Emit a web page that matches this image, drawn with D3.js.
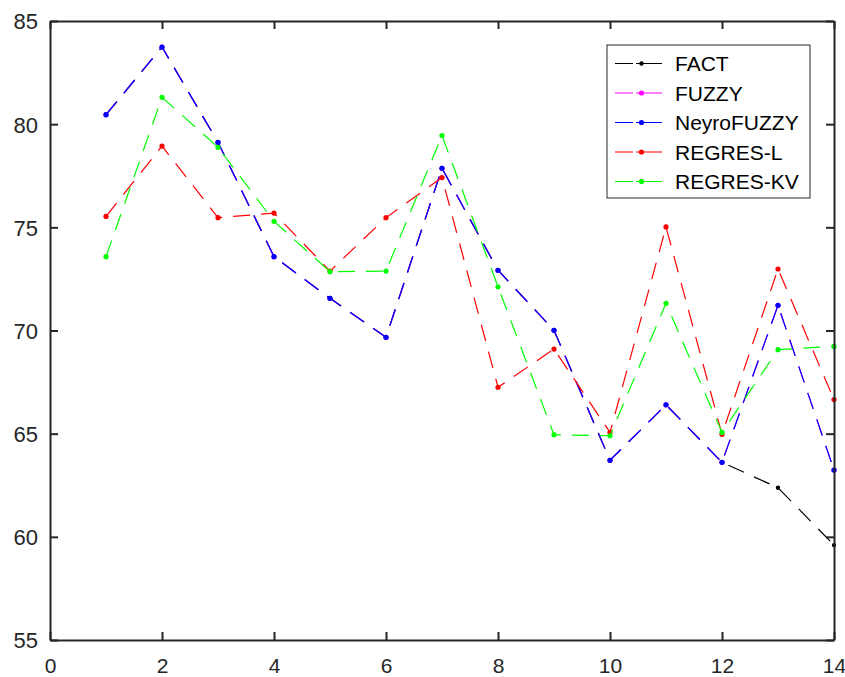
<!DOCTYPE html>
<html>
<head>
<meta charset="utf-8">
<script src="https://cdn.jsdelivr.net/npm/d3@7/dist/d3.min.js"></script>
<style>
  html, body { margin: 0; padding: 0; background: #fff; }
  svg { display: block; }
</style>
</head>
<body>
<svg id="chart" width="845" height="677"></svg>
<script>
// ---- data ----
const xValues = [1, 2, 3, 4, 5, 6, 7, 8, 9, 10, 11, 12, 13, 14];
const fact       = [80.46, 83.74, 79.12, 73.58, 71.56, 69.67, 77.86, 72.92, 70.01, 63.71, 66.40, 63.61, 62.38, 59.60];
const fuzzy      = [80.46, 83.74, 79.12, 73.58, 71.56, 69.67, 77.86, 72.92, 70.01, 63.71, 66.40, 63.61, 71.22, 63.24];
const neyroFuzzy = [80.46, 83.74, 79.12, 73.58, 71.56, 69.67, 77.86, 72.92, 70.01, 63.71, 66.40, 63.61, 71.22, 63.24];
const regresL    = [75.53, 78.94, 75.47, 75.69, 72.88, 75.47, 77.41, 67.25, 69.10, 65.06, 75.02, 64.97, 72.98, 66.65];
const regresKV   = [73.58, 81.30, 78.88, 75.29, 72.85, 72.88, 79.45, 72.12, 64.95, 64.90, 71.32, 65.06, 69.07, 69.23];
const seriesNames = ["FACT", "FUZZY", "NeyroFUZZY", "REGRES-L", "REGRES-KV"];
const seriesColors = ["#000000", "#ff00ff", "#0000ff", "#ff0000", "#00ff00"];
const seriesData = [fact, fuzzy, neyroFuzzy, regresL, regresKV];
const xTicks = [0, 2, 4, 6, 8, 10, 12, 14];
const yTicks = [55, 60, 65, 70, 75, 80, 85];

// ---- layout ----
const svg = d3.select("#chart");
const L = 50, R = 834, T = 21, B = 640;
const x = d3.scaleLinear().domain([0, 14]).range([L, R]);
const y = d3.scaleLinear().domain([55, 85]).range([B, T]);
const axisColor = "#262626";
const font = "'Liberation Sans', Arial, Helvetica, sans-serif";

// series
const line = d3.line().x((d, i) => x(xValues[i])).y(d => y(d));
const plot = svg.append("g");
seriesData.forEach((vals, k) => {
  plot.append("path")
    .attr("d", line(vals))
    .attr("fill", "none")
    .attr("stroke", seriesColors[k])
    .attr("stroke-width", 1.2)
    .attr("stroke-dasharray", "17,11");
  plot.selectAll(null).data(vals).enter().append("circle")
    .attr("cx", (d, i) => x(xValues[i]))
    .attr("cy", d => y(d))
    .attr("r", k === 0 ? 2.2 : 2.6)
    .attr("fill", seriesColors[k]);
});

// axes (box with ticks on all sides, inward)
const tickLen = 8;
const axB = svg.append("g").attr("transform", `translate(0,${B})`)
  .call(d3.axisBottom(x).tickValues(xTicks).tickSize(-tickLen).tickPadding(12).tickSizeOuter(0));
const axT = svg.append("g").attr("transform", `translate(0,${T})`)
  .call(d3.axisTop(x).tickValues(xTicks).tickSize(-tickLen).tickFormat("").tickSizeOuter(0));
const axL = svg.append("g").attr("transform", `translate(${L},0)`)
  .call(d3.axisLeft(y).tickValues(yTicks).tickSize(-tickLen).tickPadding(12).tickSizeOuter(0));
const axR = svg.append("g").attr("transform", `translate(${R},0)`)
  .call(d3.axisRight(y).tickValues(yTicks).tickSize(-tickLen).tickFormat("").tickSizeOuter(0));
[axB, axT, axL, axR].forEach(a => {
  a.selectAll("path.domain").attr("stroke", axisColor).attr("stroke-width", 2);
  a.selectAll(".tick line").attr("stroke", axisColor).attr("stroke-width", 2);
  a.selectAll("text").attr("fill", axisColor).style("font-family", font).style("font-size", "22px");
});
axB.selectAll(".tick text").style("font-size", "21px").attr("dy", "0").attr("y", 32.5);
axL.selectAll(".tick text").attr("x", -12).attr("dy", "0.36em");

// legend
const lg = svg.append("g");
const lgX = 607, lgY = 45, lgW = 203, lgH = 153;
lg.append("rect").attr("x", lgX).attr("y", lgY).attr("width", lgW).attr("height", lgH)
  .attr("fill", "#fff").attr("stroke", "#262626").attr("stroke-width", 1);
const rowY0 = 63.5, rowStep = 29.5;
seriesNames.forEach((name, k) => {
  const cy = rowY0 + k * rowStep;
  lg.append("line").attr("x1", 615).attr("x2", 662).attr("y1", cy).attr("y2", cy)
    .attr("stroke", seriesColors[k]).attr("stroke-width", 1.2).attr("stroke-dasharray", "18,3,26");
  lg.append("circle").attr("cx", 641.5).attr("cy", cy).attr("r", k === 0 ? 2.2 : 2.6).attr("fill", seriesColors[k]);
  lg.append("text").attr("x", 675).attr("y", cy).attr("dy", "0.36em")
    .text(name).style("font-family", font).style("font-size", "21px").attr("fill", "#000");
});
</script>
</body>
</html>
